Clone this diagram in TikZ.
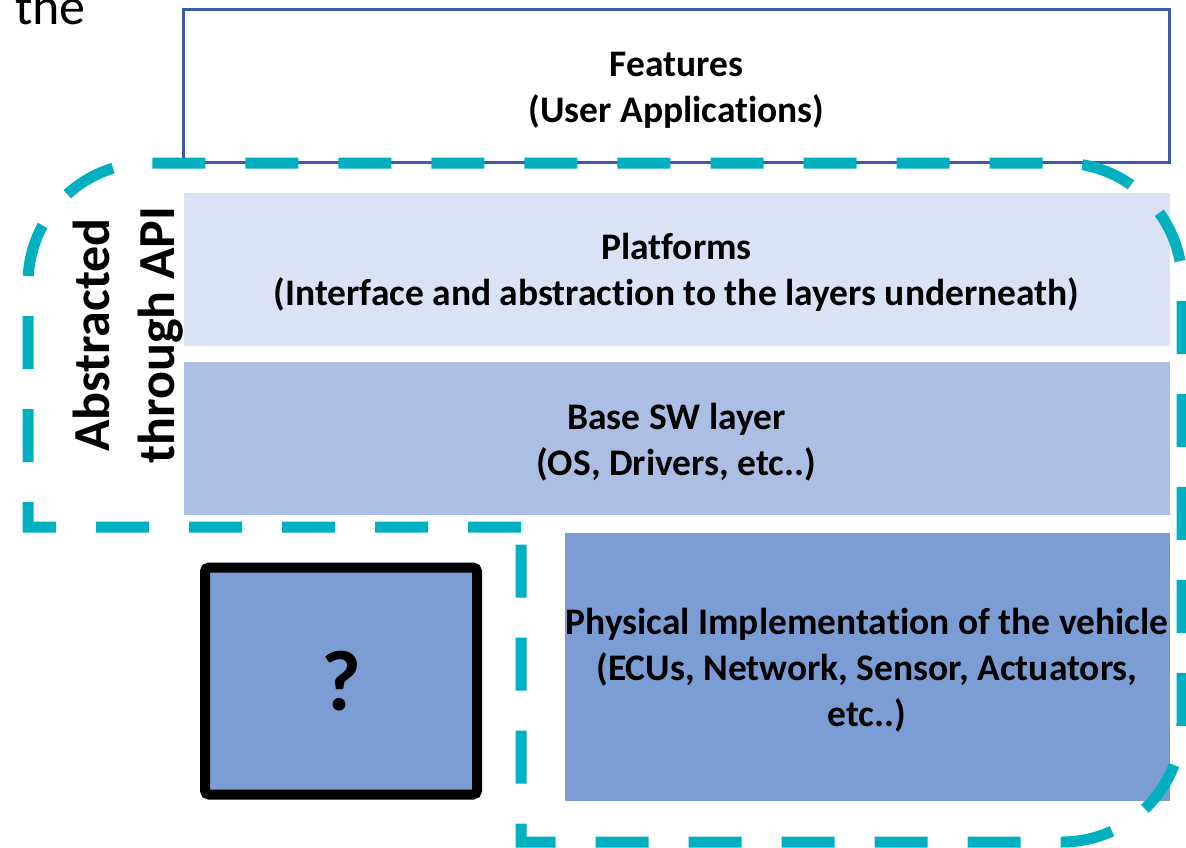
\documentclass[tikz,border=0pt]{standalone}
\usepackage{fontspec}
\setmainfont[Ligatures=CommonOff]{Carlito}
\usetikzlibrary{positioning}

\definecolor{featline}{RGB}{59,91,168}
\definecolor{platfill}{RGB}{218,227,243}
\definecolor{basefill}{RGB}{171,190,228}
\definecolor{physfill}{RGB}{123,157,212}
\definecolor{apicyan}{RGB}{0,176,193}

\tikzset{
    layer/.style={minimum width=986pt, minimum height=153pt, inner sep=0pt,
        align=center, font=\bfseries\fontsize{37.5}{46}\selectfont},
    apiline/.style={draw=apicyan, line width=11pt, dash pattern=on 53pt off 40pt}
}

\begin{document}
\begin{tikzpicture}[x=1pt, y=-1pt]
        \useasboundingbox (0,0) rectangle (1186,847);
        \node[anchor=base west, inner sep=0pt, font=\fontsize{52}{60}\selectfont] (cut) at (15,24) {the};
        \node[layer, draw=featline, line width=3pt, anchor=north west] (feat) at (182,8)
            {\rule{0pt}{33pt}Features\\(User Applications)};
        \node[layer, fill=platfill, below=28.5pt of feat] (plat)
            {\rule{0pt}{33pt}Platforms\\(Interface and abstraction to the layers underneath)};
        \node[layer, fill=basefill, below=16pt of plat] (base)
            {\rule{0pt}{33pt}Base SW layer\\(OS, Drivers, etc..)};
        \node[layer, fill=physfill, minimum width=605pt, minimum height=268pt,
            below=17pt of base.south east, anchor=north east] (phys)
            {\rule{0pt}{33pt}Physical Implementation of the vehicle\\(ECUs, Network, Sensor, Actuators,\\etc..)};
        \node[draw, line width=10pt, fill=physfill, rounded corners=4pt, minimum width=272pt,
            minimum height=227pt, font=\bfseries\fontsize{86}{100}\selectfont] (unknown) at (341,681) {?};
        \node[rotate=90, align=center, font=\bfseries\fontsize{52}{65}\selectfont] (api) at (128,335)
            {Abstracted\\through API};
        \draw[apiline] (521,527) -- (28,527) [rounded corners=120pt] -- (28,163) -- (1182,163)
            -- (1182,842) [sharp corners] -- (521,842) -- cycle;
    \end{tikzpicture}
\end{document}
